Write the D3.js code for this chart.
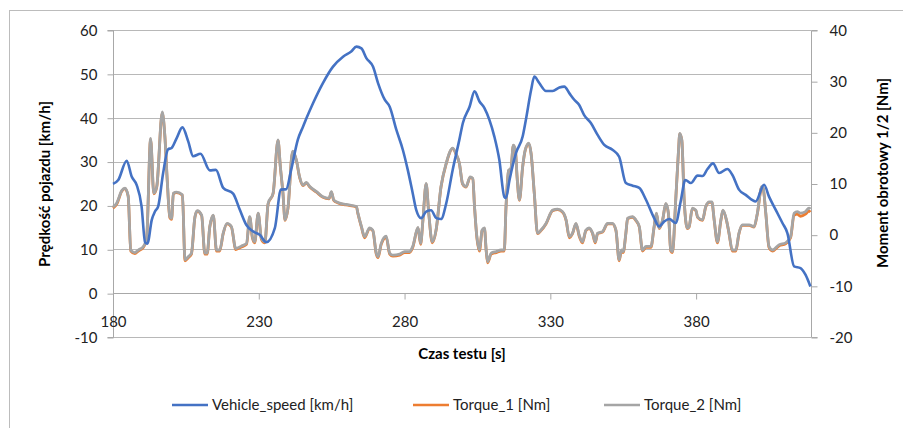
<!DOCTYPE html>
<html>
<head>
<meta charset="utf-8">
<script src="https://cdn.jsdelivr.net/npm/d3@7/dist/d3.min.js"></script>
<style>
	body { margin: 0; background: #fff; }
	svg { display: block; font-family: Lato, "Open Sans", sans-serif; }
</style>
</head>
<body>
<svg id="chart" width="903" height="428"></svg>
<script>
(function(){
	'use strict';

	// czas [s] i prędkość [km/h]
	var speedTime = [180,181.8,184.7,186.4,188.1,189.8,191,191.8,193.3,194.4,195.5,197.2,198.9,200.1,201.8,203.8,205.8,207.5,210,213.2,215.3,217.8,221.2,223.5,225.7,228,230.3,232.6,235.5,237.6,239.4,241.1,243.4,245.2,246.3,248.6,252,255.4,258.9,261.7,263.5,265.2,266.9,269.2,270.9,273.2,274.9,277.2,279.4,281.1,282.8,284,285.7,287.4,289.1,290.9,292.5,294.3,296.5,298.8,300,302.3,304,305.7,307.4,309.1,310.8,312.5,314.2,314.8,316,318.2,320.5,321.6,323.4,324.5,326.2,328.5,330.8,333.1,334.8,336.5,338.2,339.9,341.6,343.9,346.2,348.5,351.3,353.6,355.9,358.2,360.5,362.8,365.6,367.3,369,370.8,373,374.7,376.3,378.2,380.5,382.2,383.9,385.8,387.9,390.7,392.4,394.7,397,400.4,403.3,405,407.3,409.6,411.3,413.6,415.8,417.5,419.2];
	var vehicleSpeed = [24.9,25.8,30.2,26.6,24.7,19.8,11.6,11.3,16.7,18.6,19.8,27.4,32.8,33.1,35.3,37.8,34.6,31.2,31.8,28.0,28.1,24.0,22.7,19.0,15.6,14.1,13.3,11.6,14.8,23.6,23.7,28.1,35.0,38.0,39.8,43.3,47.9,51.6,53.9,55.1,56.2,55.8,53.6,51.6,47.9,44.1,42.5,37.2,32.7,28.1,22.8,19.0,17.1,18.6,18.9,17.1,16.9,20.5,28.1,35.0,38.8,42.5,46.0,43.7,42.2,39.5,35.7,30.4,22.0,21.7,25.8,31.9,35.7,39.5,46.3,49.4,47.9,46.1,46.1,46.9,47.1,45.6,44.1,42.9,40.6,38.8,36.1,33.8,32.7,31.1,25.1,24.5,24.0,21.3,17.1,15.2,16.3,16.9,16.0,20.9,25.8,25.1,26.8,26.7,28.3,29.6,27.4,28.3,27.0,23.6,22.4,20.9,24.7,22.0,19.0,16.0,13.7,6.1,5.7,4.2,1.5];

	// czas [s] i momenty [Nm]
	var torqueTime = [180,181.3,183,184.1,185.2,186.1,187.5,188.7,190.4,191.5,192.9,194,195,196.9,197.8,198.6,199.5,200.1,200.7,201.8,203.8,204.7,205.8,206.9,208.1,208.9,210.4,211.5,212.3,213.2,214.4,215.5,216.6,217.8,219.1,220.6,222.1,224.1,225.8,226.9,227.8,228.6,229.8,230.9,232.1,233.2,234.9,236.6,237.4,238.3,239,240,241.6,242.9,244,245.2,246.3,247.5,249.8,252,254.1,254.9,255.7,257.2,260,263.5,264,265.2,266.3,268,269.1,270.3,270.9,272,273.7,274.9,276,278.3,280,281.7,282.8,284.6,285.5,286.3,287.4,288.3,289.5,290.8,292.5,294.3,296.5,297.6,298.8,299.9,301.1,302.5,303.4,304,304.8,305.7,306.6,307.4,308,308.5,309.7,311.4,313.1,314.2,314.8,315.7,316.5,317.3,318,318.6,319.4,320.5,321.4,322.6,323.4,324.5,325.6,326.8,328.5,330.8,332.5,334.2,335.4,336.5,337.6,338.8,339.9,341,342.2,343.3,344.5,345.4,346.2,347.9,349.6,351.3,352.5,353.6,354.4,355,355.9,356.5,358.2,359.3,360.5,361.6,362.8,364.5,365.6,366.4,367.3,368.5,369.6,370.5,371.3,371.9,373,373.9,374.4,375.1,375.9,377,377.6,378.7,379.9,380.5,382.2,383.3,384.5,385.4,386.2,387.3,388.5,389.2,390.4,391.3,392.4,393.6,394.7,395.9,398.2,399.9,401,402.5,403,403.9,405,406.2,408.4,410.7,412.4,413.6,414.7,415.8,417.5,418.7,419.2];
	var torque1 = [5.2,6.0,8.5,9.0,7.5,-3.2,-3.7,-3.2,-2.5,-1.1,18.6,8.0,9.3,23.8,19.1,10.6,3.3,3.0,8.0,8.2,7.7,-5.1,-4.5,-3.8,3.4,4.6,3.7,-3.8,-3.8,1.5,3.7,-3.2,-3.2,0.2,2.1,1.5,-2.9,-2.4,-1.9,3.4,-0.6,-1.6,4.1,-0.9,-1.6,6.0,8.0,18.4,13.2,8.0,2.8,5.1,16.2,14.5,11.2,9.6,10.1,9.3,8.3,7.3,7.0,8.3,6.7,6.2,5.8,5.4,4.1,1.5,-0.6,1.2,0.8,-3.8,-4.5,-1.9,-0.5,-3.8,-4.2,-4.0,-3.5,-3.5,-2.5,1.3,-1.9,2.8,9.9,4.1,-1.6,0.8,9.3,13.9,16.8,15.8,13.9,9.9,9.3,11.2,10.9,5.4,-0.6,-3.2,0.8,1.2,-3.2,-5.5,-3.8,-3.5,-3.2,-3.2,5.4,12.5,12.9,17.4,16.5,11.2,6.7,13.2,16.5,17.8,15.8,8.0,0.2,0.8,2.1,4.7,4.9,4.4,2.8,-0.6,0.2,2.1,-0.3,-1.6,0.8,1.2,0.2,-1.6,0.2,0.5,2.1,2.1,0.8,-5.1,-3.2,-3.5,0.2,3.1,3.4,2.8,1.5,-3.2,-2.5,-2.5,1.5,4.1,1.2,2.8,6.0,4.1,-3.2,-3.5,6.7,15.8,19.7,18.4,6.7,1.2,1.5,5.1,4.7,3.4,2.8,5.4,6.3,6.3,2.8,-1.6,2.8,4.7,2.8,0.2,-3.2,-3.2,0.2,1.8,1.8,1.5,4.1,9.3,9.0,4.1,-2.5,-3.2,-2.2,-1.8,-0.6,3.8,4.0,3.6,4.0,4.6,4.4];
	var torque2 = [5.4,6.2,8.6,9.1,7.6,-3.0,-3.5,-3.0,-2.3,-1.0,18.8,8.1,9.4,24.0,19.2,10.7,3.5,3.2,8.1,8.3,7.8,-4.9,-4.3,-3.6,3.5,4.7,3.8,-3.6,-3.6,1.6,3.8,-3.0,-3.0,0.3,2.2,1.6,-2.7,-2.2,-1.7,3.5,-0.4,-1.4,4.2,-0.7,-1.4,6.1,8.1,18.5,13.3,8.1,2.9,5.2,16.3,14.6,11.3,9.7,10.2,9.4,8.4,7.4,7.1,8.4,6.8,6.3,5.9,5.5,4.2,1.6,-0.4,1.3,0.9,-3.6,-4.3,-1.7,-0.3,-3.6,-4.0,-3.8,-3.3,-3.3,-2.3,1.4,-1.7,2.9,10.0,4.2,-1.4,0.9,9.4,14.0,16.9,15.9,14.0,10.0,9.4,11.3,11.0,5.5,-0.4,-3.0,0.9,1.3,-3.0,-5.3,-3.6,-3.3,-3.0,-3.0,5.5,12.6,13.0,17.5,16.6,11.3,6.8,13.3,16.6,17.9,15.9,8.1,0.3,0.9,2.2,4.8,5.0,4.5,2.9,-0.4,0.3,2.2,-0.1,-1.4,0.9,1.3,0.3,-1.4,0.3,0.6,2.2,2.2,0.9,-4.9,-3.0,-3.3,0.3,3.2,3.5,2.9,1.6,-3.0,-2.3,-2.3,1.6,4.2,1.3,2.9,6.1,4.2,-3.0,-3.3,6.8,15.9,19.8,18.5,6.8,1.3,1.6,5.2,4.8,3.5,2.9,5.5,6.4,6.4,2.9,-1.4,2.9,4.8,2.9,0.3,-3.0,-3.0,0.3,1.9,1.9,1.6,4.2,9.4,9.1,4.2,-2.3,-3.0,-2.0,-1.6,-0.4,4.2,4.5,4.2,4.5,5.2,5.0];

	var xTicks = [180, 230, 280, 330, 380];
	var leftTicks = [-10, 0, 10, 20, 30, 40, 50, 60];
	var rightTicks = [-20, -10, 0, 10, 20, 30, 40];

	var series = [
		{ name: 'Vehicle_speed [km/h]', color: '#4472c4', axis: 'left', t: speedTime, v: vehicleSpeed },
		{ name: 'Torque_1 [Nm]', color: '#ed7d31', axis: 'right', t: torqueTime, v: torque1 },
		{ name: 'Torque_2 [Nm]', color: '#a5a5a5', axis: 'right', t: torqueTime, v: torque2 }
	];

	var svg = d3.select('#chart');
	var plot = { left: 113, right: 811, top: 30, bottom: 337 };
	var plain = (d) => String(d);

	var x = d3.scaleLinear().domain([180, 419.4]).range([plot.left, plot.right]);
	var yL = d3.scaleLinear().domain([-10, 60]).range([plot.bottom, plot.top]);
	var yR = d3.scaleLinear().domain([-20, 40]).range([plot.bottom, plot.top]);

	// ramka wykresu
	svg.append('rect')
		.attr('x', 9.5).attr('y', 10.5)
		.attr('width', 920).attr('height', 440)
		.attr('fill', 'none')
		.attr('stroke', '#bcbcbc');

	// linie siatki
	svg.append('g')
		.selectAll('line')
		.data(leftTicks)
		.enter()
		.append('line')
			.attr('x1', plot.left).attr('x2', plot.right)
			.attr('y1', (d) => Math.round(yL(d)) + 0.5)
			.attr('y2', (d) => Math.round(yL(d)) + 0.5)
			.attr('stroke', '#b8b8b8');

	// oś lewa
	var gL = svg.append('g')
		.attr('transform', 'translate(' + (plot.left + 0.5) + ',0.5)')
		.call(d3.axisLeft(yL).tickValues(leftTicks).tickFormat(plain).tickSize(6).tickPadding(10));
	gL.select('.domain').attr('stroke', '#a8a8a8').attr('d', 'M-6,' + Math.round(yL(60)) + 'H0V' + Math.round(yL(-10)) + 'H-6');
	gL.selectAll('line').attr('stroke', '#a8a8a8');
	gL.selectAll('text').attr('font-size', 15).attr('fill', '#222').attr('font-family', 'Lato, sans-serif');

	// oś prawa
	var gR = svg.append('g')
		.attr('transform', 'translate(' + (plot.right + 0.5) + ',0.5)')
		.call(d3.axisRight(yR).tickValues(rightTicks).tickFormat(plain).tickSize(6).tickPadding(12));
	gR.select('.domain').attr('stroke', '#a8a8a8').attr('d', 'M6,' + Math.round(yR(40)) + 'H0V' + Math.round(yR(-20)) + 'H6');
	gR.selectAll('line').attr('stroke', '#a8a8a8');
	gR.selectAll('text').attr('font-size', 15).attr('fill', '#222').attr('font-family', 'Lato, sans-serif');

	// oś X przy zerze
	var gX = svg.append('g')
		.attr('transform', 'translate(0,' + (Math.round(yL(0)) + 0.5) + ')')
		.call(d3.axisBottom(x).tickValues(xTicks).tickFormat(plain).tickSize(6).tickPadding(17));
	gX.select('.domain').attr('stroke', '#a8a8a8').attr('d', 'M' + plot.left + ',0H' + plot.right);
	gX.selectAll('line').attr('stroke', '#a8a8a8');
	gX.selectAll('text').attr('font-size', 15).attr('fill', '#222').attr('font-family', 'Lato, sans-serif');

	// linie danych
	var lineFor = function(s){
		var yS = s.axis === 'left' ? yL : yR;
		return d3.line()
			.x((d, i) => x(s.t[i]))
			.y((d) => yS(d))
			.curve(d3.curveMonotoneX)(s.v);
	};

	svg.append('g')
		.selectAll('path')
		.data([series[1], series[2], series[0]])
		.enter()
		.append('path')
			.attr('d', lineFor)
			.attr('fill', 'none')
			.attr('stroke', (d) => d.color)
			.attr('stroke-width', (d) => d.axis === 'left' ? 2.6 : 2.8)
			.attr('stroke-linejoin', 'round');

	// tytuły osi
	svg.append('text')
		.attr('transform', 'translate(50,184) rotate(-90)')
		.attr('text-anchor', 'middle')
		.attr('font-size', 15).attr('font-weight', 'bold')
		.text('Prędkość pojazdu [km/h]');

	svg.append('text')
		.attr('transform', 'translate(888,173) rotate(-90)')
		.attr('text-anchor', 'middle')
		.attr('font-size', 15).attr('font-weight', 'bold')
		.text('Moment obrotowy 1/2 [Nm]');

	svg.append('text')
		.attr('x', 462).attr('y', 359)
		.attr('text-anchor', 'middle')
		.attr('font-size', 15).attr('font-weight', 'bold')
		.text('Czas testu [s]');

	// legenda
	var legendX = [172, 413, 604];
	var leg = svg.append('g')
		.selectAll('g')
		.data(series)
		.enter()
		.append('g')
			.attr('transform', (d, i) => 'translate(' + legendX[i] + ',405)');
	leg.append('line')
		.attr('x1', 0).attr('x2', 36)
		.attr('stroke', (d) => d.color)
		.attr('stroke-width', 2.6);
	leg.append('text')
		.attr('x', 40).attr('y', 5)
		.attr('font-size', 15)
		.attr('fill', '#222')
		.text((d) => d.name);

})();
</script>
</body>
</html>
